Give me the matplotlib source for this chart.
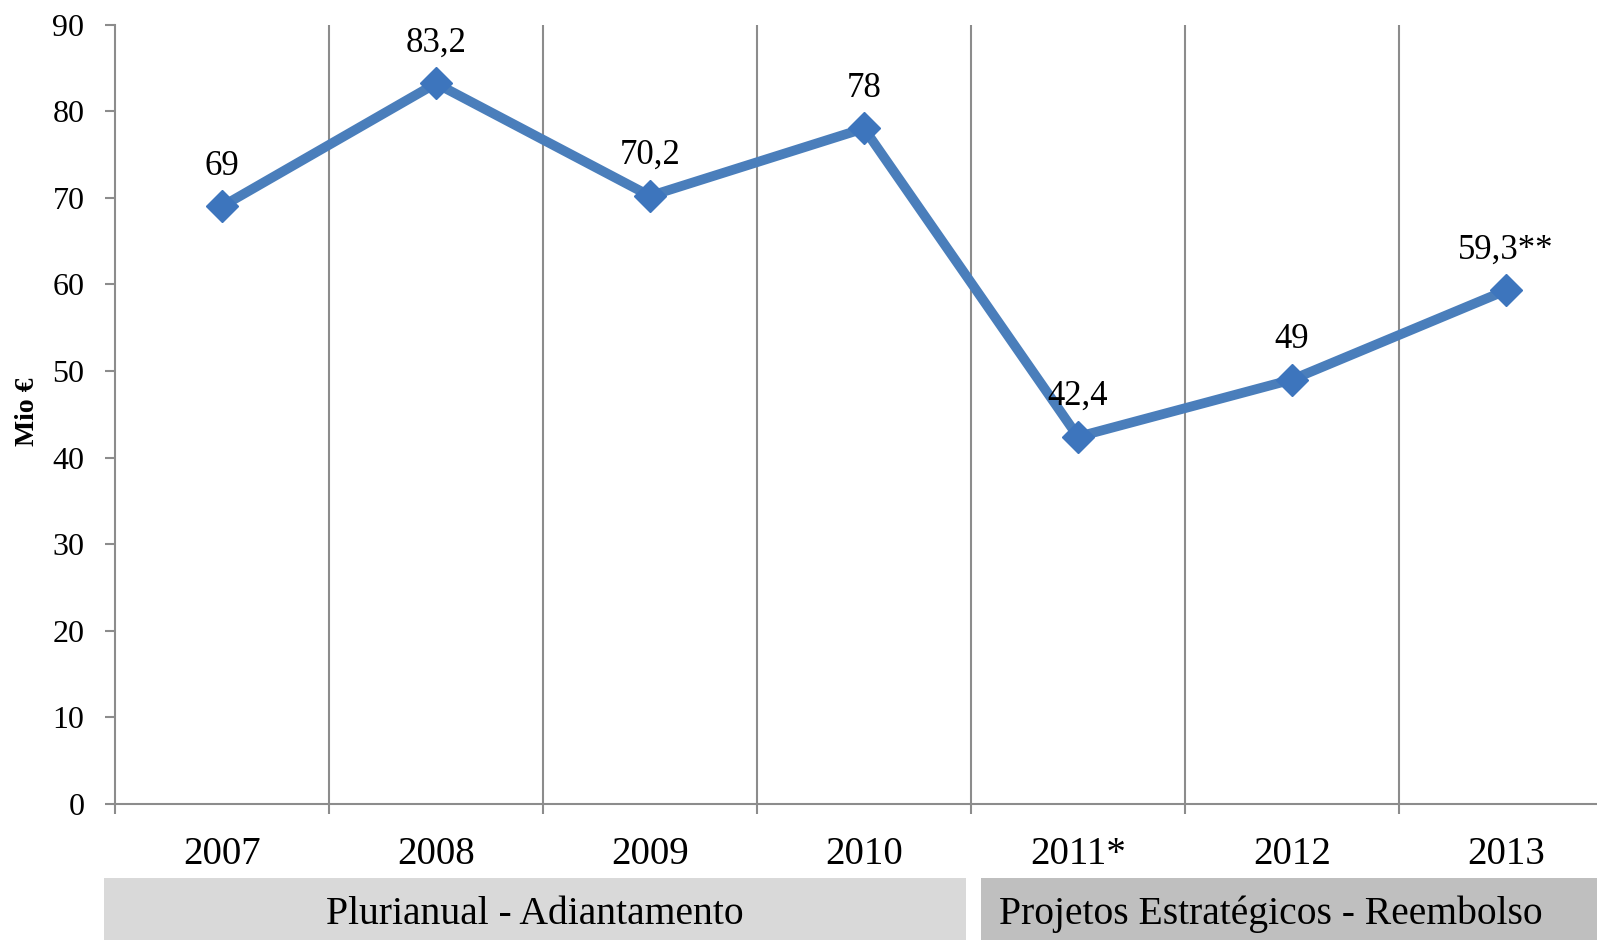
import matplotlib

matplotlib.use("Agg")
import matplotlib.pyplot as plt
from matplotlib.patches import Rectangle

# data
years = ["2007", "2008", "2009", "2010", "2011*", "2012", "2013"]
values = [69, 83.2, 70.2, 78, 42.4, 49, 59.3]
value_labels = ["69", "83,2", "70,2", "78", "42,4", "49", "59,3**"]
y_ticks = [0, 10, 20, 30, 40, 50, 60, 70, 80, 90]
groups = ["Plurianual - Adiantamento", "Projetos Estratégicos - Reembolso"]

W, H = 1597, 940
SERIF = ["Liberation Serif", "DejaVu Serif"]
LINE_BLUE = "#4a7ebb"
GRID_GRAY = "#8c8c8c"

plt.rcParams['font.family'] = SERIF
fig = plt.figure(figsize=(W / 100, H / 100), dpi=100)

# plot area in pixels: left 115, right 1613 (cropped by the image), top 24.5, bottom 804
ax = fig.add_axes([115 / W, 1 - 804 / H, 1498 / W, (804 - 24.5) / H])

xs = [i + 0.5 for i in range(len(years))]
ax.plot(xs, values, color=LINE_BLUE, linewidth=7, marker="D", markersize=16,
        markerfacecolor="#3d75bd", markeredgecolor="#3d75bd", solid_joinstyle="miter",
        zorder=3, clip_on=False)

for x, v, lab in zip(xs, values, value_labels):
    ax.annotate(lab, (x, v), xytext=(0, 29), textcoords="offset points",
                ha="center", va="center", fontsize=25, color="black")

ax.set_xlim(0, len(years))
ax.set_ylim(0, 90)

# vertical separators between categories
for k in range(1, len(years)):
    ax.axvline(k, color=GRID_GRAY, linewidth=1.5, zorder=1)

for side in ("top", "right"):
    ax.spines[side].set_visible(False)
for side in ("left", "bottom"):
    ax.spines[side].set_color(GRID_GRAY)
    ax.spines[side].set_linewidth(1.5)

ax.set_yticks(y_ticks)
ax.tick_params(axis="y", direction="out", length=7, width=1.5, color=GRID_GRAY,
               labelsize=23, pad=15)
ax.set_xticks(range(len(years) + 1))
ax.set_xticklabels([])
ax.set_xticks(xs, minor=True)
ax.set_xticklabels(years, minor=True)
ax.tick_params(axis="x", which="major", direction="out", length=7, width=1.5, color=GRID_GRAY)
ax.tick_params(axis="x", which="minor", length=0, labelsize=28, pad=23)

fig.text(27 / W, 1 - 412 / H, "Mio €", rotation=90, ha="center", va="center",
         fontsize=20, fontweight="bold")

# group boxes under the categories
fig.patches.append(Rectangle((104 / W, 0), (966 - 104) / W, (H - 878) / H,
                             transform=fig.transFigure, facecolor="#d9d9d9",
                             edgecolor="none"))
fig.patches.append(Rectangle((981 / W, 0), (W - 981) / W, (H - 878) / H,
                             transform=fig.transFigure, facecolor="#bfbfbf",
                             edgecolor="none"))
fig.text(535 / W, 1 - 914 / H, groups[0], ha="center", va="center", fontsize=28.5)
fig.text(1271 / W, 1 - 914 / H, groups[1], ha="center", va="center", fontsize=28.5)

fig.savefig("out.png", dpi=100)
plt.close(fig)
